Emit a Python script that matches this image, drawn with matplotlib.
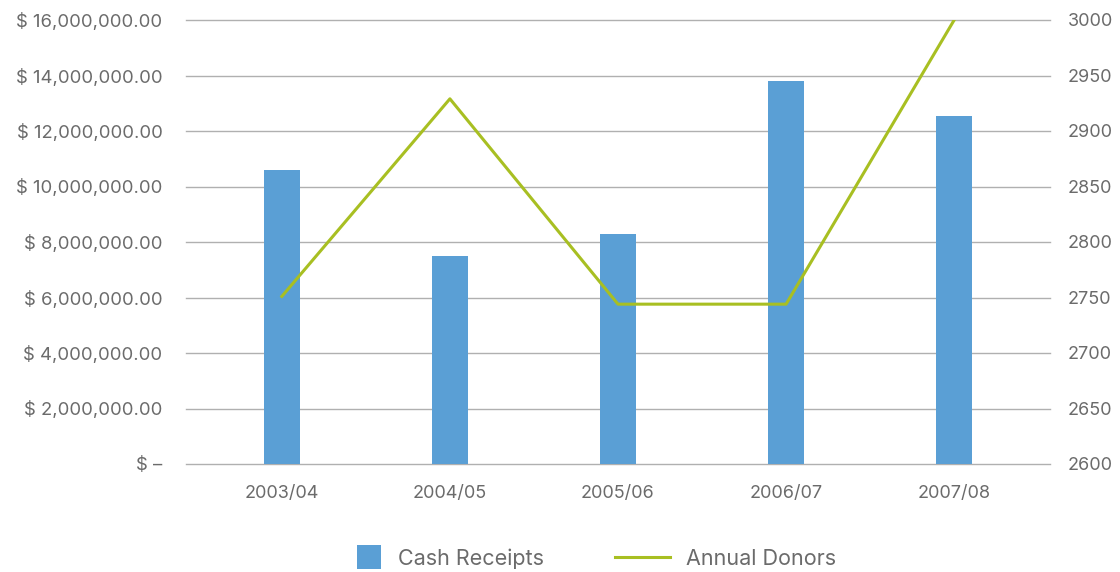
import matplotlib
matplotlib.use("Agg")
import matplotlib.pyplot as plt
from matplotlib.ticker import FuncFormatter
from matplotlib.patches import Rectangle
from matplotlib.lines import Line2D

categories = ["2003/04", "2004/05", "2005/06", "2006/07", "2007/08"]
cash_receipts = [10600000, 7500000, 8300000, 13800000, 12550000]
annual_donors = [2751, 2929, 2744, 2744, 3000]
left_ticks = [0, 2000000, 4000000, 6000000, 8000000, 10000000, 12000000, 14000000, 16000000]
right_ticks = [2600, 2650, 2700, 2750, 2800, 2850, 2900, 2950, 3000]
series_names = ["Cash Receipts", "Annual Donors"]

bar_color = "#5a9fd5"
line_color = "#a8bf22"
text_color = "#6b6b6b"
grid_color = "#b0b0b0"

plt.rcParams["font.family"] = ["Inter", "DejaVu Sans"]

W, H = 1120, 572
fig = plt.figure(figsize=(W/100, H/100), dpi=100)
ax = fig.add_axes([186/W, 1-464/H, (1050-186)/W, (464-20)/H])
ax2 = ax.twinx()

x = list(range(len(categories)))
ax.bar(x, cash_receipts, width=0.215, color=bar_color, zorder=3)
ax.set_xlim(-0.57, 4.57)
ax.set_ylim(0, 16000000)
ax.set_yticks(left_ticks)

def money(v, pos):
    if v == 0:
        return "$ \u2013"
    return "$ {:,.2f}".format(v)

ax.yaxis.set_major_formatter(FuncFormatter(money))
ax.set_xticks(x)
ax.set_xticklabels(categories)
ax.grid(axis="y", color=grid_color, linewidth=1, zorder=0)
for gl in ax.get_ygridlines():
    gl.set_clip_on(False)
ax.set_axisbelow(True)
for s in ax.spines.values():
    s.set_visible(False)
for s in ax2.spines.values():
    s.set_visible(False)
ax.tick_params(axis="y", length=0, pad=17, labelsize=13.3, labelcolor=text_color)
ax.tick_params(axis="x", length=0, pad=15, labelsize=13, labelcolor=text_color)

ax2.plot(x, annual_donors, color=line_color, linewidth=2.2, zorder=4)
ax2.set_ylim(2600, 3000)
ax2.set_yticks(right_ticks)
ax2.tick_params(axis="y", length=0, pad=13, labelsize=13, labelcolor=text_color)

# legend drawn in figure pixel space
ly = 1 - 557/H
fig.patches.append(Rectangle((357/W, 1-569/H), 24/W, 24/H, transform=fig.transFigure,
                             facecolor=bar_color, edgecolor="none"))
fig.text(398/W, ly, series_names[0], ha="left", va="center_baseline", fontsize=15.5, color=text_color)
fig.lines.append(Line2D([615/W, 670/W], [ly, ly], transform=fig.transFigure,
                        color=line_color, linewidth=2.2))
fig.text(686/W, ly, series_names[1], ha="left", va="center_baseline", fontsize=15.5, color=text_color)

fig.savefig("out.png", dpi=100)
